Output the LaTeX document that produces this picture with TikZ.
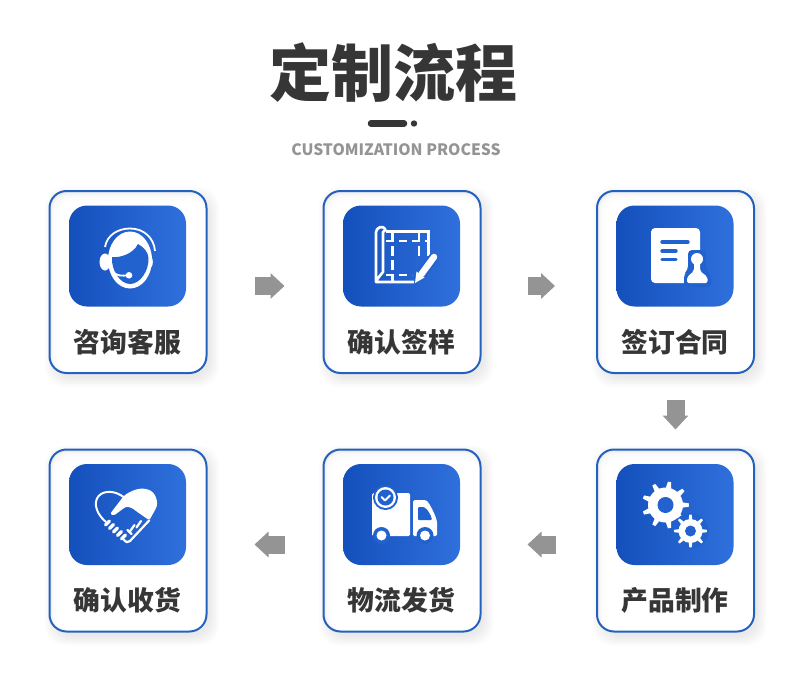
\documentclass[tikz,border=0pt]{standalone}
\usepackage{fontspec}
\usetikzlibrary{arrows.meta,positioning,calc}
\newfontfamily\cjk{Noto Sans CJK SC}
\definecolor{framecolor}{HTML}{2461BE}
\definecolor{iconleft}{HTML}{1450BC}
\definecolor{iconright}{HTML}{2F70DD}
\definecolor{iconmid}{HTML}{2262CE}
\definecolor{inkcolor}{HTML}{363636}
\tikzset{
    cardbox/.style={draw=framecolor, line width=2pt, rounded corners=17pt, minimum width=157pt, minimum height=182pt, inner sep=0pt, outer sep=0pt},
    iconbox/.style={left color=iconleft, right color=iconright, rounded corners=18pt, minimum width=117pt, minimum height=101pt, inner sep=0pt},
    cardlabel/.style={inner sep=0pt, text=inkcolor, font=\cjk\bfseries\fontsize{26.8}{30}\selectfont},
    flowarrow/.style={draw=black!42, line width=18pt, -{Triangle[width=25pt,length=14pt]}},
    whiteline/.style={draw=white, line width=2.6pt},
}
\newcommand{\cardshade}[2]{
    \foreach \s in {9,7.5,...,0}
        \fill[black, opacity=0.013, rounded corners=20pt] (#1-78+4-\s,#2-91+5-\s) rectangle (#1+78+4+\s,#2+91+5+\s);
    \fill[white, rounded corners=17pt] (#1-78.5,#2-91) rectangle (#1+78.5,#2+91);
    \fill[black!11, rounded corners=17pt] (#1-78.5,#2-91) rectangle (#1+78.5,#2+91);
    \foreach \s in {1,2,...,7}
        \fill[white, opacity=0.4, rounded corners=16pt] (#1-78.5+\s*0.9,#2-91+\s*1.2) rectangle (#1+78.5,#2+91);
    \fill[white, rounded corners=13pt] (#1-70,#2-81) rectangle (#1+78.5,#2+91);
}
\newcommand{\gearicon}[6]{
    \fill[white] (#1,#2) circle (#4);
    \foreach \a in {0,#6,...,359}
        \fill[white] (#1,#2) ++(\a-9:#4-0.5) -- ($(#1,#2)+(\a-4:#3)$) -- ($(#1,#2)+(\a+4:#3)$) -- ($(#1,#2)+(\a+9:#4-0.5)$) -- cycle;
    \fill[iconmid] (#1,#2) circle (#5);
}
\begin{document}
\begin{tikzpicture}[x=1pt,y=-1pt]
    \useasboundingbox (0,0) rectangle (790,693);

    \node[inner sep=0pt, text=inkcolor, font=\cjk\bfseries\fontsize{62}{70}\selectfont] (title) at (393.5,73) {定制流程};
    \node[inner sep=0pt, text=black!42, font=\cjk\bfseries\fontsize{15.7}{18}\selectfont] (subtitle) at (396,150) {CUSTOMIZATION PROCESS};
    \draw[inkcolor, line width=6.5pt, line cap=round] (371,123.5) -- (404,123.5);
    \fill[inkcolor] (414,123.5) circle (3.2);

    \foreach \name/\cx/\cy/\txt in {
        consult/128/282/咨询客服, sample/402/282/确认签样, contract/675.5/282/签订合同,
        produce/675.5/540.5/产品制作, ship/402/540.5/物流发货, receive/128/540.5/确认收货} {
        \cardshade{\cx}{\cy}
        \node[cardbox] (\name) at (\cx,\cy) {};
        \node[iconbox] (\name-icon) at (\cx-0.5,\cy-26) {};
        \node[cardlabel] (\name-label) at (\cx-0.5,\cy+60) {\txt};
    }

    \draw[flowarrow, shorten <=48pt, shorten >=39pt] ([yshift=-4pt]consult.east) -- ([yshift=-4pt]sample.west);
    \draw[flowarrow, shorten <=47pt, shorten >=42pt] ([yshift=-4pt]sample.east) -- ([yshift=-4pt]contract.west);
    \draw[flowarrow, shorten <=27pt, shorten >=20pt] (contract.south) -- (produce.north);
    \draw[flowarrow, shorten <=41pt, shorten >=47pt] ([yshift=-4pt]produce.west) -- ([yshift=-4pt]ship.east);
    \draw[flowarrow, shorten <=39pt, shorten >=48pt] ([yshift=-4pt]ship.west) -- ([yshift=-4pt]receive.east);

    % headset
    \fill[white] (130,260) ellipse (22 and 28.5);
    \fill[white] (150,262) ellipse (2.8 and 6);
    \fill[iconmid] (112,257) .. controls (120,258) and (133,254) .. (138,244) .. controls (143,247) and (148,251) .. (148.5,258) .. controls (149,271) and (140,284) .. (130,284) .. controls (120,284) and (111,270) .. (112,257) -- cycle;
    \fill[white] (105,262) ellipse (5.5 and 8.5);
    \draw[whiteline, line width=1.8pt] (105,247) .. controls (107,235) and (118,228.5) .. (130,228.5) .. controls (144,228.5) and (154,238) .. (155,251);
    \draw[whiteline, line width=1.8pt] (113,272) .. controls (117,276) and (122,276) .. (128,275.3);
    \fill[white] (129,275.3) circle (3.3);

    % blueprint
    \draw[whiteline, line join=round] (376,282) -- (376,232) .. controls (376,228) and (383,224) .. (385.5,230) -- (383,232) -- (383,272) .. controls (381,275) and (378,277) .. (376,282) -- (414,282);
    \draw[whiteline] (385.5,231.5) -- (428.5,231.5) -- (428.5,256);
    \draw[whiteline, dash pattern=on 10pt off 4pt] (392.7,232) -- (392.7,282);
    \draw[whiteline, dash pattern=on 10pt off 4pt] (419,232) -- (419,256);
    \draw[whiteline, dash pattern=on 8pt off 5pt] (386,241) -- (427,241);
    \draw[whiteline, dash pattern=on 8pt off 5pt] (386,275) -- (412,275);
    \draw[draw=iconmid, line width=10pt] (420,276) -- (434,257);
    \draw[draw=white, line width=6.5pt, line cap=round] (421.5,274) -- (434,257);
    \fill[white] (415,283) -- (416.5,271.5) -- (424.5,277.5) -- cycle;

    % document with stamp
    \fill[white, rounded corners=4pt] (651,228) rectangle (700,283);
    \draw[draw=iconmid, line width=3.4pt, line cap=round] (662,242) -- (688,242);
    \draw[draw=iconmid, line width=3.4pt, line cap=round] (662,251) -- (676,251);
    \draw[draw=iconmid, line width=3.4pt, line cap=round] (662,259.5) -- (676,259.5);
    \fill[iconmid, rounded corners=4pt] (684,287) -- (684,274) -- (688,270) -- (688,250) -- (706,250) -- (706,270) -- (711,276) -- (711,287) -- cycle;
    \fill[white] (697,259) circle (6);
    \fill[white, rounded corners=2pt] (687,283) -- (687,277) -- (694,271) -- (694,262) -- (700,262) -- (700,271) -- (707.5,277) -- (707.5,283) -- cycle;

    % gears
    \gearicon{665.5}{505}{23.5}{17.5}{8}{40}
    \fill[iconmid] (690.5,531) circle (18);
    \gearicon{690.5}{531}{16.5}{12}{5.5}{45}

    % truck
    \fill[white, rounded corners=1.5pt] (372,493) rectangle (410,536);
    \fill[white, rounded corners=1.5pt] (413,500) -- (426,500) .. controls (430,504) and (437,518) .. (437,524) -- (437,536) -- (413,536) -- cycle;
    \fill[iconmid, rounded corners=1pt] (418,507) -- (424,507) .. controls (428,510) and (431,515) .. (432,520) -- (418,520) -- cycle;
    \fill[iconmid] (385.5,497.5) circle (12.5);
    \fill[white] (385.5,497.5) circle (10.5);
    \fill[iconmid] (385.5,497.5) circle (8);
    \draw[draw=white, line width=2pt, line cap=round, line join=round] (381.5,497) -- (385,500.5) -- (390,495.5);
    \foreach \wx in {381.5,425} {
        \fill[iconmid] (\wx,535.5) circle (8.5);
        \fill[white] (\wx,535.5) circle (5);
    }

    % handshake
    \fill[white, rounded corners=1.5pt] (110,514) -- (121.7,498.7) .. controls (126,493) and (138,487) .. (147,489.3) .. controls (156,492) and (159,503) .. (155,510) -- (149.3,520.3) -- (135,510.3) .. controls (131,507) and (127,506.5) .. (124,508) -- (114,515.5) -- cycle;
    \draw[whiteline, line width=2pt, line cap=round] (106,522) .. controls (94,512) and (93,499) .. (101,494) .. controls (108,490) and (117,492) .. (123.5,497);
    \draw[whiteline, line width=2.2pt, line cap=round, line join=round] (149.3,520.3) -- (130,541) .. controls (128,543) and (125,542.5) .. (124,540);
    \draw[whiteline, line width=2.2pt, line cap=round] (141,521) -- (136.5,527.5);
    \draw[whiteline, line width=2.2pt, line cap=round] (134.5,525) -- (129.5,532);
    \draw[whiteline, line width=2.2pt, line cap=round] (127.5,530) -- (131.5,534);
    \foreach \fx/\fy in {107.5/523,111.5/526.5,115.5/530,119.5/533.5,123.5/537}
        \draw[whiteline, line width=3.4pt, line cap=round] (\fx-2,\fy+2) -- (\fx+2,\fy-2);
\end{tikzpicture}
\end{document}
